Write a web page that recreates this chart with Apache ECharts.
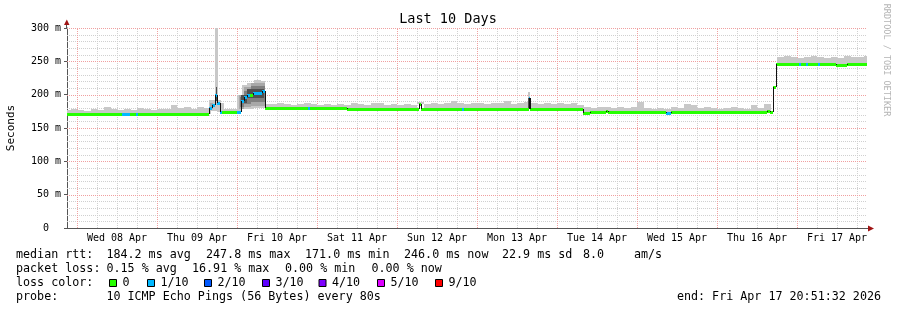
<!DOCTYPE html>
<html><head><meta charset="utf-8">
<script src="https://cdn.jsdelivr.net/npm/echarts@6/dist/echarts.min.js"></script>
<style>html,body{margin:0;padding:0;background:#fff}#c{width:897px;height:310px}</style>
</head><body><div id="c"></div>
<script>
// ---- time axis: hours since Wed 08 Apr 00:00 ----
const X_MIN = -3.1411, X_MAX = 236.8589;
const dayLabels = ['Wed 08 Apr','Thu 09 Apr','Fri 10 Apr','Sat 11 Apr','Sun 12 Apr','Mon 13 Apr','Tue 14 Apr','Wed 15 Apr','Thu 16 Apr','Fri 17 Apr'];
const dayLabelHours = [12,36,60,84,108,132,156,180,204,228];

// ---- median rtt (ms), step breakpoints ----
const medianT = [-3.2,13.5,15.75,17.7,18.15,39.6,40.5,41.4,42.0,42.9,43.5,48.0,49.2,50.1,51.0,51.9,52.8,54.3,55.5,56.4,69.3,69.9,81.0,102.6,103.2,115.5,116.1,135.5,135.9,151.8,153.9,158.7,159.3,176.7,178.2,207.0,207.9,208.8,209.55,216.6,217.2,218.7,219.3,222.3,222.9,227.7,231.0];
const medianV = [171.5,171.5,171.5,171.5,171.5,180,184,199,187,174.5,174.5,173.5,190,196,200,199,202,203,206,179.5,179.5,179.5,178,186,178,178,178,195,178,172,173.5,176,173.5,172,173.5,175,173.5,212,246.5,246.5,246.5,246.5,246.5,246.5,246.5,244,246];
const medianLoss = [0,1,0,1,0,1,1,1,1,1,0,1,1,1,1,0,1,1,1,0,1,0,0,0,0,1,0,1,0,0,0,0,0,1,0,0,0,0,0,1,0,1,0,1,0,0,0];

// ---- smoke tops (ms), 2-hour bins starting at -4 h ----
const SMOKE_BIN_START = -4, SMOKE_BIN_HOURS = 2;
const smokeTop = [
 177,178,177,176,178,177,181,178,177,178,177,180,178,177,179,178,184,180,181,179,181,180,
 190,187,178,179,
 null,null,null,null,
 186,
 186,188,186,185,186,188,186,185,186,185,186,185,187,186,185,187,188,185,186,185,186,185,189,
 186,187,186,188,190,187,186,188,187,186,188,187,191,186,187,189,187,186,187,186,187,186,187,185,
 181,180,181,182,180,181,180,181,189,180,179,180,179,181,180,186,184,180,181,180,179,180,181,180,179,184,180,186,186,
 256,258,256,255,256,258,256,255,256,255,258,256,257,258
];
// special smoke bands: [startHour, endHour, low ms, high ms, shade]
const smokeBands = [
 [39.6,43.2,176,192,0],[41.4,42.3,185,300,0],
 [48.0,49.5,175,200,0],[49.5,51.0,178,214,0],[51.0,53.0,179,218,0],[53.0,55.0,180,222,0],[55.0,56.4,180,220,0],
 [135.3,135.9,180,204,0],
 [39.9,40.8,179,187,1],
 [48.6,50.0,178,200,1],[50.0,52.0,181,212,1],[52.0,56.3,183,217,1],
 [48.9,50.0,182,196,2],[50.0,52.0,186,206,2],[52.0,56.2,189,213,2],
 [41.5,42.0,190,212,3],[49.2,51.0,188,199,3],[51.0,56.1,195,209,3],[135.3,135.9,180,195,3]
];

// ---- legend ----
const lossLabels = ['0','1/10','2/10','3/10','4/10','5/10','9/10'];
const lossColors = ['#26ff00','#00b8ff','#0059ff','#5e00ff','#7e00ff','#dd00ff','#ff0000'];
const rttTexts = ['median rtt:','184.2 ms avg','247.8 ms max','171.0 ms min','246.0 ms now','22.9 ms sd','8.0','am/s'];
const lossTexts = ['packet loss:','0.15 % avg','16.91 % max','0.00 % min','0.00 % now'];
const probeTexts = ['probe:','10 ICMP Echo Pings (56 Bytes) every 80s'];
const endText = 'end: Fri Apr 17 20:51:32 2026';

// ---- layout / style ----
const rttX = [16,106.4,206,305,404,502,583,634];
const lossX = [16,106.5,192,285,371.5];
const probeX = [16,106.4];
const lossBoxX = [109,147,204,262,318.5,377,435];
const MONO = '"DejaVu Sans Mono", monospace';
const LFONT = 11.7;
const smokeShades = ['#c8c8c8','#a8a8a8','#808080','#505050'];
const MAJOR = '#f0a0a0', MINOR = '#d0d0d0', AXIS = '#555';

function medianAt(t){ let v = medianV[0]; for (let i=0;i<medianT.length;i++){ if (medianT[i] <= t) v = medianV[i]; } return v; }

const smokeData = [];
smokeTop.forEach((top,i)=>{
  if (top == null) return;
  const t0 = SMOKE_BIN_START + i*SMOKE_BIN_HOURS, t1 = t0 + SMOKE_BIN_HOURS;
  const low = medianAt((t0+t1)/2);
  if (top > low) smokeData.push([t0,t1,low,top,0]);
});
smokeBands.forEach(b=>smokeData.push(b.slice()));

const medRects = medianT.map((t,i)=>[t, i+1<medianT.length ? medianT[i+1] : X_MAX, medianV[i], medianLoss[i]]);
const medConn = [];
for (let i=1;i<medianT.length;i++){ if (medianV[i] !== medianV[i-1]) medConn.push([medianT[i], medianV[i-1], medianV[i]]); }

// grid lines: [kind(0=vertical,1=horizontal), position, major]
const gridData = [];
for (let h=0; h<=X_MAX; h+=6){ gridData.push([0, h, h%24===0 ? 1 : 0]); }
for (let v=10; v<=300; v+=10){ gridData.push([1, v, v%50===0 ? 1 : 0]); }
gridData.sort((a,b)=>a[2]-b[2]);

const empty = {type:'group', children:[]};

const chart = echarts.init(document.getElementById('c'), null, {renderer:'canvas'});
const graphics = [];
graphics.push({type:'text', x:448, y:19, style:{text:'Last 10 Days', font:'13.5px '+MONO, fill:'#000', align:'center', verticalAlign:'middle'}});
graphics.push({type:'text', x:11, y:128, rotation:Math.PI/2, style:{text:'Seconds', font:'11px '+MONO, fill:'#000', align:'center', verticalAlign:'middle'}});
graphics.push({type:'text', x:886, y:60, rotation:-Math.PI/2, style:{text:'RRDTOOL / TOBI OETIKER', font:'8.5px '+MONO, fill:'#b4b4b4', align:'center', verticalAlign:'middle'}});
// axis extensions and arrows
graphics.push({type:'line', shape:{x1:66.5,y1:28,x2:66.5,y2:24}, style:{stroke:AXIS, lineWidth:1}});
graphics.push({type:'polygon', shape:{points:[[64,25],[69.5,25],[66.8,19.5]]}, style:{fill:'#a01414'}});
graphics.push({type:'line', shape:{x1:867,y1:228.5,x2:869,y2:228.5}, style:{stroke:AXIS, lineWidth:1}});
graphics.push({type:'polygon', shape:{points:[[868,225.5],[868,231.5],[874,228.5]]}, style:{fill:'#a01414'}});
rttTexts.forEach((t,i)=>graphics.push({type:'text', x:rttX[i], y:255, style:{text:t, font:LFONT+'px '+MONO, fill:'#000', verticalAlign:'middle'}}));
lossTexts.forEach((t,i)=>graphics.push({type:'text', x:lossX[i], y:269, style:{text:t, font:LFONT+'px '+MONO, fill:'#000', verticalAlign:'middle'}}));
graphics.push({type:'text', x:16, y:283, style:{text:'loss color:', font:LFONT+'px '+MONO, fill:'#000', verticalAlign:'middle'}});
lossLabels.forEach((t,i)=>{
  graphics.push({type:'rect', shape:{x:lossBoxX[i]+0.5, y:279.5, width:7, height:7}, style:{fill:lossColors[i], stroke:'#000', lineWidth:1}});
  graphics.push({type:'text', x:lossBoxX[i]+13.5, y:283, style:{text:t, font:LFONT+'px '+MONO, fill:'#000', verticalAlign:'middle'}});
});
probeTexts.forEach((t,i)=>graphics.push({type:'text', x:probeX[i], y:297, style:{text:t, font:LFONT+'px '+MONO, fill:'#000', verticalAlign:'middle'}}));
graphics.push({type:'text', x:881, y:297, style:{text:endText, font:LFONT+'px '+MONO, fill:'#000', align:'right', verticalAlign:'middle'}});

chart.setOption({
  animation:false,
  backgroundColor:'#fff',
  grid:{left:67, right:30, top:28, bottom:82},
  xAxis:{type:'value', min:X_MIN, max:X_MAX,
    axisLine:{show:true, onZero:false, lineStyle:{color:AXIS, width:1}}, axisTick:{show:false}, axisLabel:{show:false}, splitLine:{show:false}},
  yAxis:{type:'value', min:0, max:300, interval:50,
    axisLine:{show:true, onZero:false, lineStyle:{color:AXIS, width:1}},
    axisTick:{show:true, length:3, lineStyle:{color:AXIS}},
    axisLabel:{margin:6, fontFamily:MONO, fontSize:10, color:'#000', formatter:v=> v===0 ? '0  ' : v+' m'},
    splitLine:{show:false}},
  graphic:graphics,
  series:[
    {type:'custom', silent:true, z:1, data:gridData, renderItem:(p,api)=>{
      const kind=api.value(0), pos=api.value(1), major=api.value(2);
      const col = major===1 ? MAJOR : MINOR;
      if (kind===0){
        const a=api.coord([pos,0]), b=api.coord([pos,300]);
        const x=Math.round(a[0])+0.5;
        return {type:'line', shape:{x1:x,y1:Math.round(a[1]),x2:x,y2:Math.round(b[1])}, style:{stroke:col, lineWidth:1, lineDash:[1,1], fill:null}};
      }
      const a=api.coord([X_MIN,pos]), b=api.coord([X_MAX,pos]);
      const y=Math.round(a[1])+0.5;
      return {type:'line', shape:{x1:Math.round(a[0]),y1:y,x2:Math.round(b[0]),y2:y}, style:{stroke:col, lineWidth:1, lineDash:[1,1], fill:null}};
    }},
    {type:'custom', silent:true, z:2, data:smokeData, renderItem:(p,api)=>{
      const t0=Math.max(api.value(0),X_MIN), t1=Math.min(api.value(1),X_MAX);
      if (t1<=t0) return empty;
      const a=api.coord([t0,api.value(3)]), b=api.coord([t1,api.value(2)]);
      const x0=Math.round(a[0]), x1=Math.round(b[0]), y0=Math.round(a[1]), y1=Math.round(b[1]);
      return {type:'rect', shape:{x:x0,y:y0,width:Math.max(1,x1-x0),height:y1-y0}, style:{fill:smokeShades[api.value(4)]}};
    }},
    {type:'custom', silent:true, z:3, data:medRects, renderItem:(p,api)=>{
      const t0=Math.max(api.value(0),X_MIN), t1=Math.min(api.value(1),X_MAX);
      if (t1<=t0) return empty;
      const a=api.coord([t0,api.value(2)]), b=api.coord([t1,api.value(2)]);
      const x0=Math.round(a[0]), x1=Math.round(b[0]), y=Math.round(a[1])-1;
      return {type:'rect', shape:{x:x0,y:y,width:Math.max(1,x1-x0),height:3}, style:{fill:lossColors[api.value(3)]}};
    }},
    {type:'custom', silent:true, z:4, data:medConn, renderItem:(p,api)=>{
      const a=api.coord([api.value(0),api.value(1)]), b=api.coord([api.value(0),api.value(2)]);
      const x=Math.round(a[0])+0.5;
      return {type:'line', shape:{x1:x,y1:Math.round(a[1]),x2:x,y2:Math.round(b[1])}, style:{stroke:'#111', lineWidth:1}};
    }},
    {type:'custom', silent:true, z:5, data:dayLabelHours.map((h,i)=>[h,i]), renderItem:(p,api)=>{
      const a=api.coord([api.value(0),0]);
      return {type:'text', x:Math.round(a[0]), y:a[1]+10, style:{text:dayLabels[api.value(1)], font:'10px '+MONO, fill:'#000', align:'center', verticalAlign:'middle'}};
    }}
  ]
});
</script></body></html>
